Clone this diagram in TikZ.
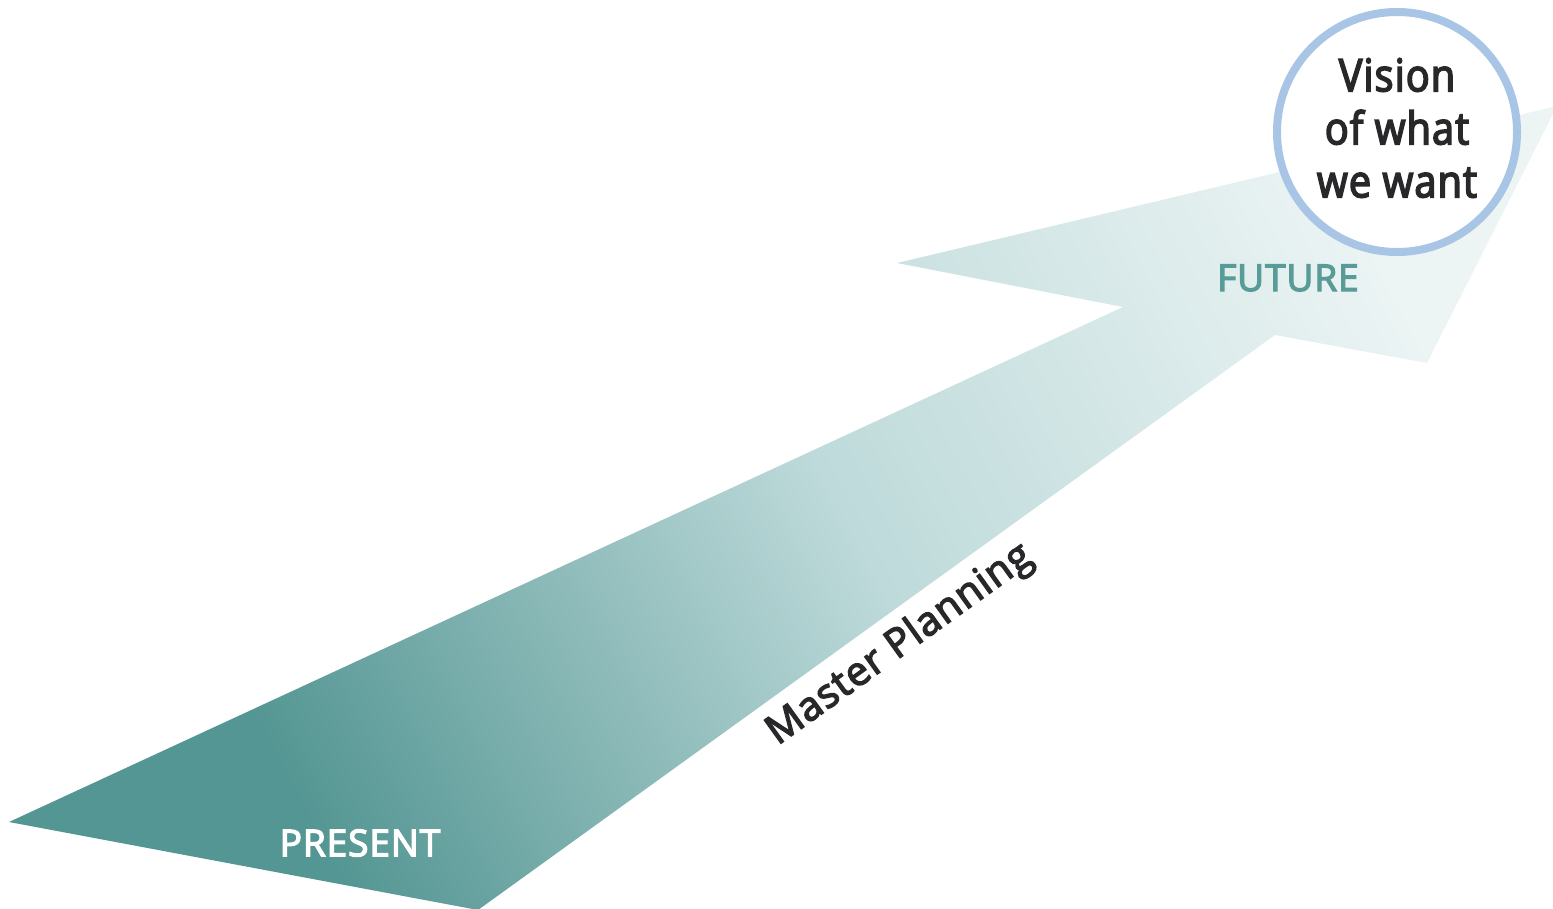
\documentclass[tikz,border=0pt]{standalone}
\usepackage{fontspec}
\usepackage{tikz}
\usetikzlibrary{positioning}
\newfontfamily\labelfont[FakeBold=3.5, LetterSpace=2.5]{Open Sans}
\newfontfamily\visionfont[FakeBold=3.5, FakeStretch=0.88, LetterSpace=2.5]{Open Sans}
\definecolor{cDark}{RGB}{84,150,147}
\definecolor{cMid}{RGB}{190,218,218}
\definecolor{cLight}{RGB}{236,244,244}
\definecolor{cRing}{RGB}{169,197,230}
\definecolor{cFuture}{RGB}{88,155,151}
\definecolor{cInk}{RGB}{40,40,42}
\pgfdeclarehorizontalshading{arrowshade}{100bp}{color(0bp)=(cDark); color(28bp)=(cDark); color(52bp)=(cMid); color(75bp)=(cLight); color(100bp)=(cLight)}

\begin{document}
\begin{tikzpicture}[x=1pt, y=-1pt]

% Stiler.
\tikzset{
  lbl/.style={font=\labelfont\fontsize{37}{44}\selectfont, inner sep=0pt},
  visionring/.style={circle, draw=cRing, line width=8pt, fill=white, minimum size=240pt, inner sep=0pt},
  visiontxt/.style={inner sep=0pt, align=center, text=cInk, font=\visionfont\fontsize{45}{53}\selectfont}
}

\useasboundingbox (0,0) rectangle (1553,908);

% Pil.
\shade[shading=arrowshade, shading angle=28]
  (9,822) -- (478,910) -- (1275,335) -- (1427,363) -- (1557,106)
  -- (897,263) -- (1123,307) -- cycle;

% Tekster.
\node (present)  [lbl, text=white] at (360,843) {PRESENT};
\node (future)   [lbl, text=cFuture] at (1288,278) {FUTURE};
\node (planning) [lbl, text=cInk, rotate=35.7, font=\labelfont\fontsize{40}{46}\selectfont] at (900,645) {Master Planning};

% Visjon.
\node (vision) [visionring] at (1397,132) {};
\node (visiontext) [visiontxt] at ([yshift=4pt]vision.center) {Vision\\of what\\we want};
\end{tikzpicture}
\end{document}
